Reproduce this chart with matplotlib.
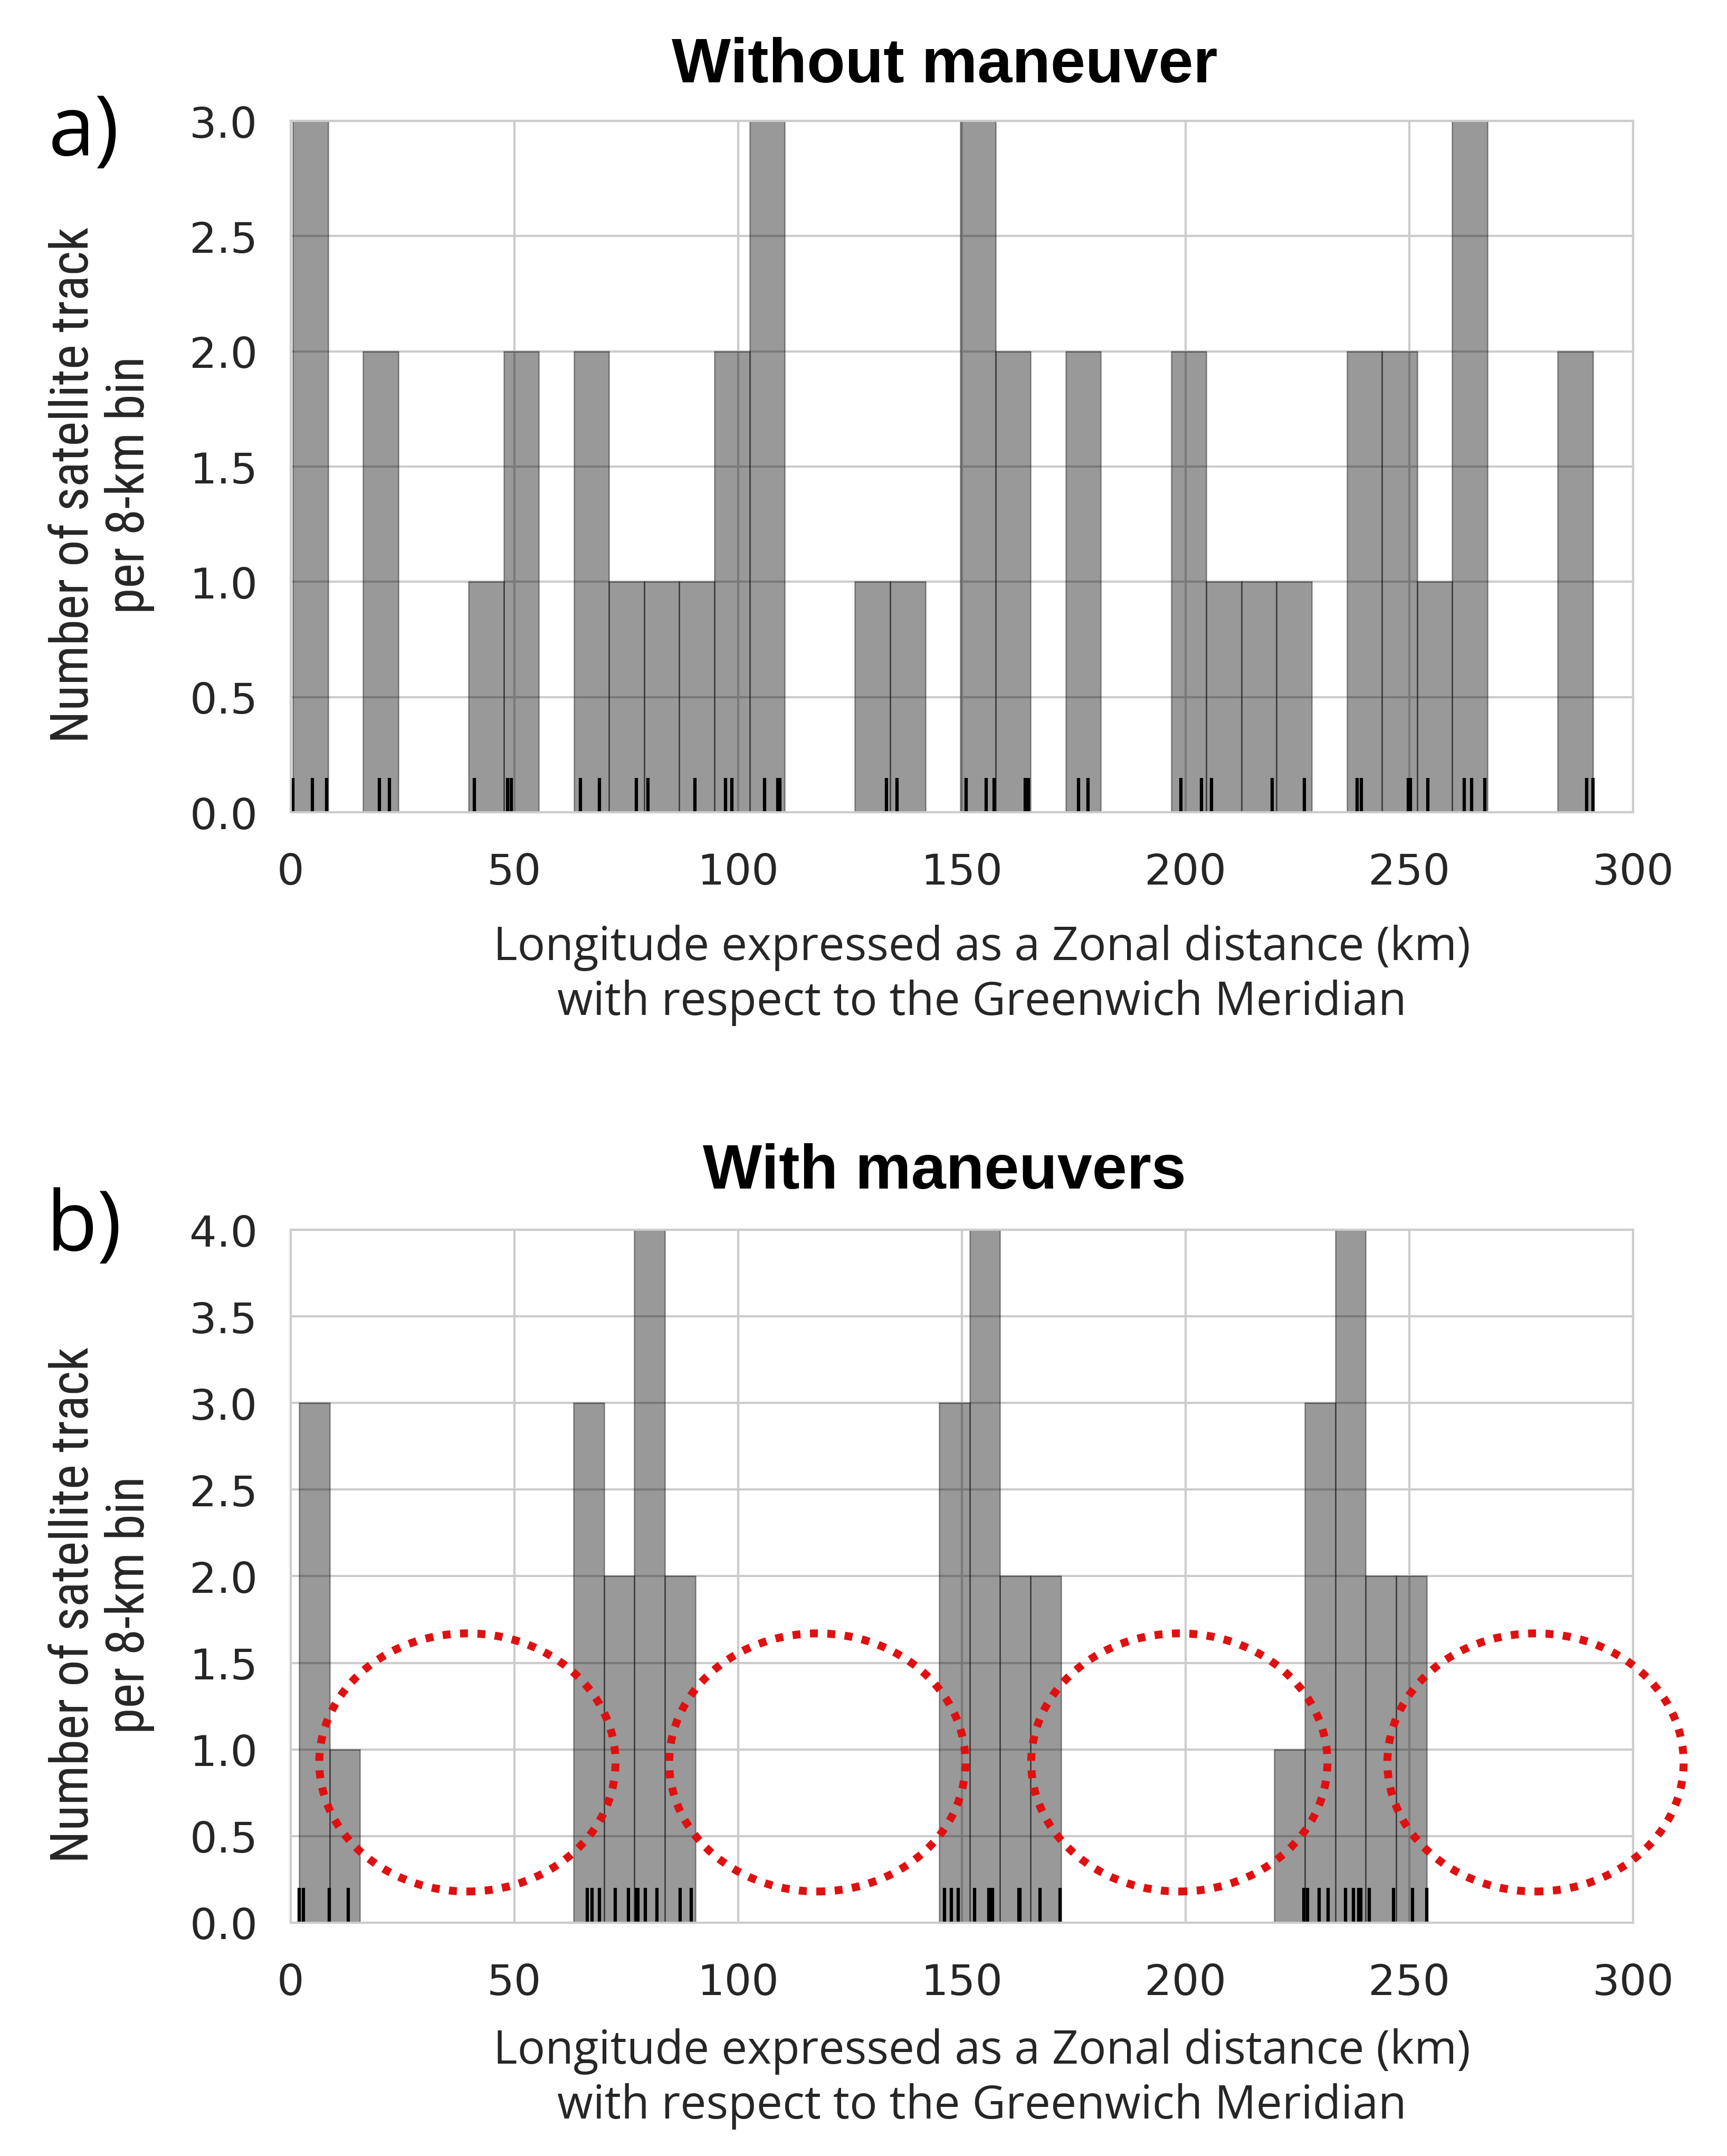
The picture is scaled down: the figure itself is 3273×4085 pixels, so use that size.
import numpy as np
import matplotlib
matplotlib.use("Agg")
import matplotlib.pyplot as plt
from matplotlib.patches import Ellipse
from matplotlib.ticker import FormatStrFormatter, MultipleLocator

# zonal position (km) of each satellite track
tracks_no_maneuver = [0.5, 4.8, 8.0, 19.8, 22.1, 41.0, 48.5, 49.3, 64.7, 69.0,
                      77.3, 79.8, 90.4, 97.2, 98.6, 105.9, 108.9, 109.3, 133.1, 135.5,
                      150.9, 155.4, 157.2, 164.2, 164.9, 176.1, 178.2, 198.9, 203.6, 205.8,
                      219.3, 226.5, 238.3, 239.3, 249.8, 250.2, 254.1, 262.3, 263.9, 266.9,
                      289.6, 291.0]
tracks_maneuvers = [1.9, 2.9, 8.6, 12.9,
                    66.3, 67.4, 69.0, 72.5, 75.5, 77.3, 77.6, 79.3, 81.8, 87.1, 89.5,
                    146.1, 147.6, 149.2, 152.9, 156.0, 156.4, 156.8, 162.8, 163.0, 167.5, 171.9,
                    226.4, 227.2, 229.9, 231.8, 235.7, 237.5, 238.7, 239.2, 241.0, 246.5,
                    250.7, 253.9]
n_bins = 37

# gaps highlighted in panel b (centre km)
gap_centers = [39.5, 117.7, 198.6, 278.2]

xticks = [0, 50, 100, 150, 200, 250, 300]
titles = ["Without maneuver", "With maneuvers"]
letters = ["a)", "b)"]
ylabel = "Number of satellite track\nper 8-km bin"
xlabel = "Longitude expressed as a Zonal distance (km)\nwith respect to the Greenwich Meridian"

plt.rcParams["font.family"] = ["DejaVu Sans"]
grid_c = "#cccccc"
text_c = "#262626"

fig = plt.figure(figsize=(3273 / 300, 4086 / 300), dpi=300)
ax_a = fig.add_axes([0.1683, 0.6231, 0.7773, 0.3206])
ax_b = fig.add_axes([0.1683, 0.1082, 0.7773, 0.3213])


def draw_panel(ax, data, ymax):
    ax.set_axisbelow(True)
    ax.hist(data, bins=n_bins, color="k", alpha=0.4, edgecolor="k", linewidth=0.6)
    ax.vlines(data, 0, 0.05, transform=ax.get_xaxis_transform(), color="k", linewidth=1.5)
    ax.set_xlim(0, 300)
    ax.set_ylim(0, ymax)
    ax.set_xticks(xticks)
    ax.yaxis.set_major_locator(MultipleLocator(0.5))
    ax.yaxis.set_major_formatter(FormatStrFormatter("%.1f"))
    ax.grid(True, color=grid_c, linewidth=1.0)
    for s in ax.spines.values():
        s.set_color(grid_c)
        s.set_linewidth(1.0)
    ax.tick_params(length=0, labelsize=19.5, colors=text_c)
    ax.tick_params(axis="x", pad=18)
    ax.tick_params(axis="y", pad=15)


draw_panel(ax_a, tracks_no_maneuver, 3.0)
draw_panel(ax_b, tracks_maneuvers, 4.0)

for cx in gap_centers:
    ax_b.add_patch(Ellipse((cx, 0.925), 66.2, 1.49, fill=False, edgecolor="#e01010",
                           linewidth=3.6, linestyle=(0, (1, 1.2)), clip_on=False, zorder=5))

# titles, panel letters and axis labels
for y_t, y_l, y_x, y_y, t, l in [(0.9694, 0.938, 0.5477, 0.775, titles[0], letters[0]),
                                  (0.4564, 0.4302, 0.036, 0.2557, titles[1], letters[1])]:
    fig.text(0.547, y_t, t, ha="center", va="center", fontsize=28.5, fontweight="bold",
             family=["Liberation Sans", "DejaVu Sans"], color="k")
    fig.text(0.0486, y_l, l, ha="center", va="center", fontsize=38,
             family=["Open Sans", "DejaVu Sans"], color="k")
    fig.text(0.5686, y_x, xlabel, ha="center", va="center", fontsize=21, linespacing=1.25,
             family=["Open Sans", "DejaVu Sans"], color=text_c)
    fig.text(0.0587, y_y, ylabel, ha="center", va="center", rotation=90, fontsize=24,
             linespacing=1.15, multialignment="center",
             family=["Liberation Sans Narrow", "Roboto Condensed", "Roboto", "DejaVu Sans"],
             color=text_c)

fig.savefig("out.png", dpi=300, facecolor="white")
